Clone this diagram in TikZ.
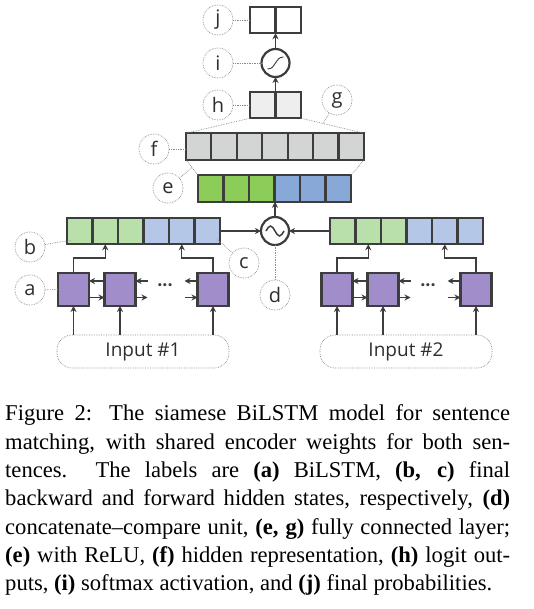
\documentclass[tikz,border=0pt]{standalone}
\usepackage{fontspec}
\setmainfont{Liberation Serif}
\newfontfamily\lblfont{Open Sans}
\usetikzlibrary{arrows.meta,calc}

\definecolor{edge}{HTML}{3D3D3D}
\definecolor{lgreen}{HTML}{B9E0AB}
\definecolor{lblue}{HTML}{B4C7E7}
\definecolor{dgreen}{HTML}{8CCC58}
\definecolor{dblue}{HTML}{88A8D8}
\definecolor{fgray}{HTML}{D3D5D5}
\definecolor{hgray}{HTML}{EEEEEF}
\definecolor{lstm}{HTML}{A28DCB}
\definecolor{dotc}{HTML}{8A8A8A}
\definecolor{lbltext}{HTML}{2E2E2E}

\begin{document}
\begin{tikzpicture}[x=1pt,y=-1pt,
 cell/.style={draw=edge, line width=2.2pt, minimum width=25.5pt, minimum height=26.5pt, inner sep=0pt, outer sep=0pt},
 lstmcell/.style={draw=edge, line width=2.2pt, fill=lstm, minimum width=31pt, minimum height=33pt, inner sep=0pt, outer sep=0pt},
 op/.style={circle, draw=edge, line width=2.2pt, fill=white, minimum size=28pt, inner sep=0pt, outer sep=0pt},
 lbl/.style={circle, draw=dotc, densely dotted, line width=0.7pt, minimum size=30pt, inner sep=0pt, font=\lblfont\fontsize{20}{22}\selectfont, text=lbltext},
 conn/.style={draw=dotc, densely dotted, line width=0.7pt},
 arr/.style={draw=edge, line width=1.4pt, -{Stealth[length=6pt,width=6pt]}},
 inbox/.style={draw=dotc, densely dotted, line width=0.7pt, rounded corners=15pt, minimum width=172pt, minimum height=33pt, inner sep=0pt, font=\lblfont\fontsize{19}{21}\selectfont, text=lbltext},
 dotsnode/.style={inner sep=0pt, text=edge, font=\lblfont\bfseries\fontsize{18}{20}\selectfont},
 capline/.style={anchor=base west, inner sep=0pt, font=\fontsize{22.6}{27}\selectfont}]

\useasboundingbox (0,0) rectangle (534,609);

% ---- output layers
\foreach \i in {1,2} \node[cell, fill=white] (j\i) at ({250+25.5*(\i-0.5)},20) {};
\node[op] (sig) at (275.5,63) {};
\draw[edge, line width=0.9pt, shift={(sig.center)}] (-8,6) .. controls (1,6) and (-1,-6) .. (8,-6);
\foreach \i in {1,2} \node[cell, fill=hgray] (h\i) at ({250+25.5*(\i-0.5)},105) {};
\foreach \i in {1,...,7} \node[cell, fill=fgray] (f\i) at ({186+25.43*(\i-0.5)},146.5) {};
\foreach \i/\c in {1/dgreen,2/dgreen,3/dgreen,4/dblue,5/dblue,6/dblue}
  \node[cell, fill=\c] (e\i) at ({198+25.5*(\i-0.5)},188.5) {};

% ---- compare unit
\node[op] (cmp) at (275,231) {};
\draw[edge, line width=1.5pt, shift={(cmp.center)}] (-9,0) sin (-4.5,-5) cos (0,0) sin (4.5,5) cos (9,0);

% ---- encoder outputs
\foreach \i/\c in {1/lgreen,2/lgreen,3/lgreen,4/lblue,5/lblue,6/lblue}{
  \node[cell, fill=\c] (bl\i) at ({67+25.5*(\i-0.5)},231) {};
  \node[cell, fill=\c] (br\i) at ({330+25.5*(\i-0.5)},231) {};
}

% ---- LSTM cells
\node[lstmcell] (l1) at (73.5,289.5) {};
\node[lstmcell] (l2) at (120,289.5) {};
\node[lstmcell] (l3) at (213,289.5) {};
\node[lstmcell] (r1) at (337,289.5) {};
\node[lstmcell] (r2) at (383,289.5) {};
\node[lstmcell] (r3) at (476,289.5) {};

% ---- inputs
\node[inbox] (in1) at (143,351.5) {Input \#1};
\node[inbox] (in2) at (406,351.5) {Input \#2};

% ---- arrows top
\draw[arr] (h1.north east) -- (sig.south);
\draw[arr] (sig.north) -- (j1.south east);
\draw[arr] (cmp.north) -- (cmp.north |- e3.south);
\draw[arr] (bl6.east) -- (cmp.west);
\draw[arr] (br1.west) -- (cmp.east);

% ---- recurrent arrows and ups for both encoders
\foreach \a/\b/\c/\B/\I in {l1/l2/l3/bl/in1, r1/r2/r3/br/in2}{
  \draw[arr] ([yshift=8.5pt]\b.west) -- ([yshift=8.5pt]\a.east);
  \draw[arr] ([yshift=-8pt]\a.east) -- ([yshift=-8pt]\b.west);
  \coordinate (\a d1) at ($(\b.east)+(12,0)$);
  \coordinate (\a d2) at ($(\c.west)+(-13,0)$);
  \draw[arr] ([yshift=8.5pt]\a d1) -- ([yshift=8.5pt]\b.east);
  \draw[arr] ([yshift=-8pt]\b.east) -- ([yshift=-8pt]\a d1);
  \draw[arr] ([yshift=8.5pt]\c.west) -- ([yshift=8.5pt]\a d2);
  \draw[arr] ([yshift=-8pt]\a d2) -- ([yshift=-8pt]\c.west);
  \node[dotsnode] (\a dots) at ($(\a d1)!0.5!(\a d2)+(-1,-2)$) {···};
  \draw[arr] (\a.north) -- ++(0,-15) -| (\B2.south);
  \draw[arr] (\c.north) -- ++(0,-15) -| (\B5.south);
  \draw[arr] (\a.south |- \I.north) -- (\a.south);
  \draw[arr] (\b.south |- \I.north) -- (\b.south);
  \draw[arr] (\c.south |- \I.north) -- (\c.south);
}

% ---- trapezoid dotted lines
\draw[conn] (h1.south west) -- (f1.north west);
\draw[conn] (h2.south east) -- coordinate[pos=0.35] (gpt) (f7.north east);
\draw[conn] (f1.south west) -- coordinate[pos=0.5] (ept) (e1.north west);
\draw[conn] (f7.south east) -- (e6.north east);

% ---- labels
\node[lbl] (lj) at (218,20) {j};
\draw[conn] (lj) -- (j1.west);
\node[lbl] (li) at (218,63) {i};
\draw[conn] (li) -- (sig.west);
\node[lbl] (lh) at (218,105) {h};
\draw[conn] (lh) -- (h1.west);
\node[lbl] (lg) at (337,100) {g};
\draw[conn] (lg) -- (gpt);
\node[lbl] (lf) at (154,149) {f};
\draw[conn] (lf.east) -- (lf.east -| f1.west);
\node[lbl] (le) at (168,188) {e};
\draw[conn] (le) -- (ept);
\node[lbl] (lb) at (30,247) {b};
\coordinate (bpt) at ($(bl1.south west)+(4,-4)$);
\draw[conn] (lb) -- (bpt);
\node[lbl] (lc) at (244,263) {c};
\coordinate (cpt) at ($(bl6.south east)+(-3,-5)$);
\draw[conn] (lc) -- (cpt);
\node[lbl] (ld) at (275,295) {d};
\draw[conn] (ld) -- (cmp);
\node[lbl] (la) at (30,290) {a};
\draw[conn] (la) -- (l1.west);

% ---- caption
\node[capline] (cap1) at (5,420.7) {\makebox[505pt][s]{Figure 2: The siamese BiLSTM model for sentence}};
\node[capline] (cap2) at (5,449.0) {\makebox[505pt][s]{matching, with shared encoder weights for both sen-}};
\node[capline] (cap3) at (5,477.4) {\makebox[505pt][s]{tences.\ \ The labels are \textbf{(a)} BiLSTM, \textbf{(b, c)} final}};
\node[capline] (cap4) at (5,505.7) {\makebox[505pt][s]{backward and forward hidden states, respectively, \textbf{(d)}}};
\node[capline] (cap5) at (5,534.0) {\makebox[505pt][s]{concatenate–compare unit, \textbf{(e, g)} fully connected layer;}};
\node[capline] (cap6) at (5,562.4) {\makebox[505pt][s]{\textbf{(e)} with ReLU, \textbf{(f)} hidden representation, \textbf{(h)} logit out-}};
\node[capline] (cap7) at (5,590.7) {puts, \textbf{(i)} softmax activation, and \textbf{(j)} final probabilities.};
\end{tikzpicture}
\end{document}
